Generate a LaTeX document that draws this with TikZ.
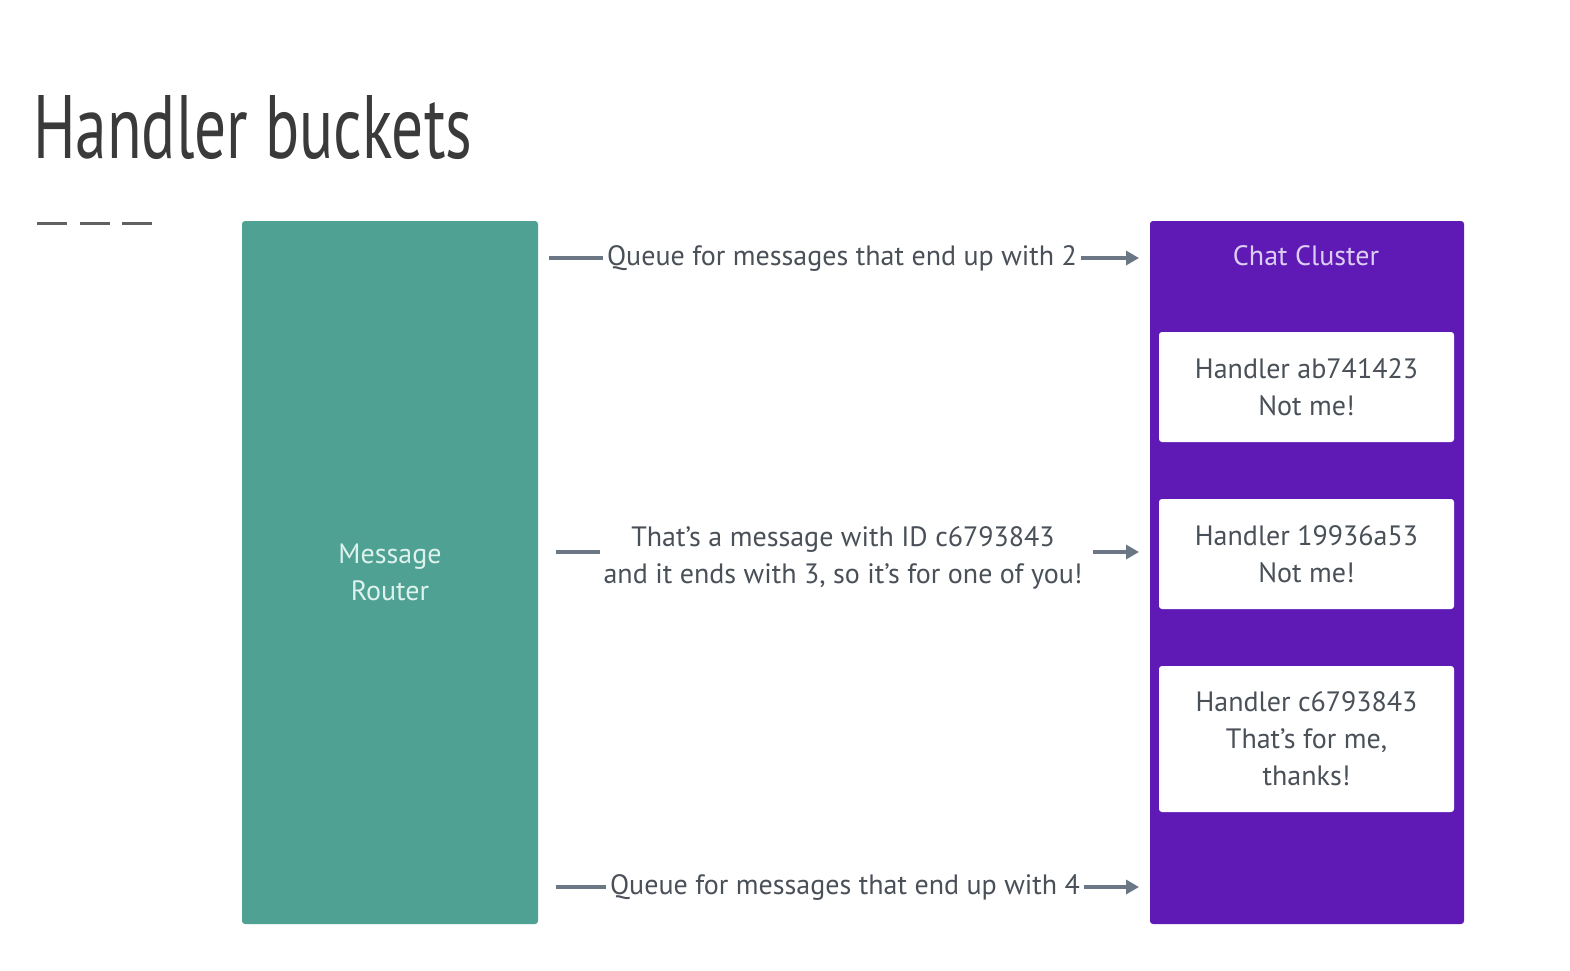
\documentclass[tikz,border=0pt]{standalone}
\usepackage{fontspec}
\setmainfont{PT Sans}
\usetikzlibrary{arrows.meta}
\definecolor{routerteal}{HTML}{4FA193}
\definecolor{clusterpurple}{HTML}{5F1AB5}
\definecolor{txtgray}{HTML}{4A5058}
\definecolor{arrgray}{HTML}{6B7785}
\definecolor{clustertxt}{HTML}{DCCDF3}
\definecolor{routertxt}{HTML}{DDF2EC}
\definecolor{titlegray}{HTML}{3A3A3A}
\tikzset{
  bodyfont/.style={font=\fontsize{28}{37}\selectfont},
  panel/.style={rounded corners=3pt, inner sep=0pt, outer sep=0pt, anchor=north west, align=center},
  handlerbox/.style={rounded corners=3pt, fill=white, inner sep=0pt, outer sep=0pt, minimum width=295pt, align=center, text=txtgray, bodyfont},
  lblbase/.style={text=txtgray, bodyfont, inner xsep=4pt, inner ysep=0pt, align=center},
  lbl/.style={lblbase, text height=19pt, text depth=5pt},
  conn/.style={draw=arrgray, line width=4pt},
  arr/.style={conn, -{Triangle[length=13pt,width=14pt]}, shorten >=11pt},
}
\begin{document}
\begin{tikzpicture}[x=1pt,y=-1pt]
\useasboundingbox[fill=white] (0,0) rectangle (1570,970);
% title
\node[anchor=base west, inner sep=0pt, text=titlegray] (title) at (33,158)
  {\resizebox{439pt}{\height}{\fontsize{90}{100}\selectfont Handler buckets}};
\draw[titlegray!80, line width=3pt, dash pattern=on 30pt off 12.5pt] (37,223) -- (152,223);
% router
\node[panel, fill=routerteal, minimum width=296pt, minimum height=703pt, text=routertxt,
  bodyfont] (router) at (242,221) {Message\\Router};
% cluster
\node[panel, fill=clusterpurple, minimum width=314pt, minimum height=703pt] (cluster) at (1150,221) {};
\node[text=clustertxt, bodyfont, inner sep=0pt, text height=19pt, text depth=5pt] (ctitle) at (1306,258) {Chat Cluster};
\node[handlerbox, minimum height=110pt] (h1) at (1306.5,387) {Handler ab741423\\Not me!};
\node[handlerbox, minimum height=110pt] (h2) at (1306.5,554) {Handler 19936a53\\Not me!};
\node[handlerbox, minimum height=146pt] (h3) at (1306.5,739) {Handler c6793843\\That's for me,\\thanks!};
% queues
\node[lbl] (q1) at (842,258) {Queue for messages that end up with 2};
\draw[conn] ([xshift=11pt]router.east |- q1) -- (q1.west);
\draw[arr] (q1.east) -- (cluster.west |- q1);
\node[lblbase] (q2) at (843,558) {That's a message with ID c6793843\\and it ends with 3, so it's for one of you!};
\draw[conn] ([xshift=18pt,yshift=6pt]router.east |- q2) -- ([xshift=1pt,yshift=6pt]q2.west);
\draw[arr] ([xshift=6pt,yshift=6pt]q2.east) -- ([yshift=6pt]cluster.west |- q2);
\node[lbl] (q3) at (845,887) {Queue for messages that end up with 4};
\draw[conn] ([xshift=18pt]router.east |- q3) -- (q3.west);
\draw[arr] (q3.east) -- (cluster.west |- q3);
\end{tikzpicture}
\end{document}
